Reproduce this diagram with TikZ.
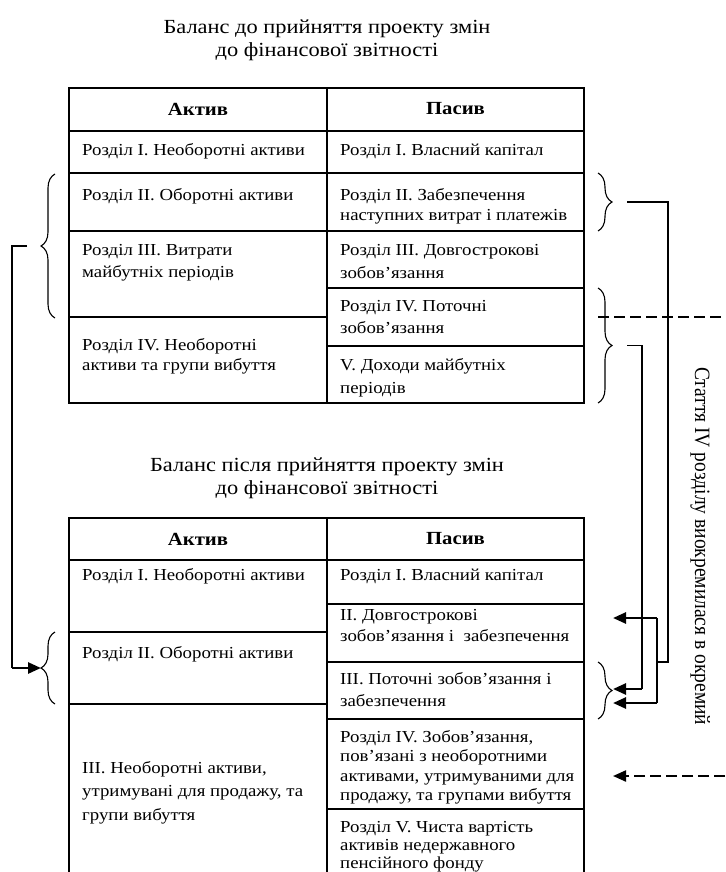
\documentclass[tikz,border=0pt]{standalone}
\usepackage{fontspec}
\usepackage{graphicx}
\setmainfont{Liberation Serif}
\newfontfamily\bodyfont[FakeStretch=1.12]{Liberation Serif}
\usetikzlibrary{arrows.meta,decorations.pathreplacing}
\newcommand\mystrut{\rule{0pt}{0.95em}}
\tikzset{
  grid/.style={line width=1.1pt},
  cell/.style={anchor=north west, inner sep=0pt, align=left, font=\bodyfont\fontsize{16.8}{#1}\selectfont},
  cell/.default=21,
  head/.style={anchor=center, inner sep=0pt, font=\bodyfont\bfseries\fontsize{18.5}{20}\selectfont},
  ttl/.style={anchor=north, inner sep=0pt, align=center, font=\bodyfont\fontsize{20}{23}\selectfont},
  bracefig/.style={decorate, decoration={brace, amplitude=14pt}, line width=1.1pt},
  conn/.style={line width=1.2pt},
  tipshape/.style={-{Triangle[length=13pt,width=11pt]}},
  thickarrow/.style={line width=2.6pt, tipshape},
  dashline/.style={line width=2.2pt, dash pattern=on 11pt off 5pt},
  vtext/.style={rotate=-90, anchor=base west, inner sep=0pt, font=\fontsize{19.5}{22}\selectfont}
}
\begin{document}
\begin{tikzpicture}[x=1pt,y=-1pt]
\useasboundingbox (0,0) rectangle (725,872);
\fill[white] (0,0) rectangle (725,872);

% ---------- top title ----------
\node[ttl] (t1) at (327,14) {\mystrut Баланс до прийняття проекту змін\\до фінансової звітності};

% ---------- top table ----------
\draw[grid] (69,88) rectangle (584,403);
\draw[grid] (327,88) -- (327,403);
\draw[grid] (69,131) -- (584,131);
\draw[grid] (69,173) -- (584,173);
\draw[grid] (69,231) -- (584,231);
\draw[grid] (327,288) -- (584,288);
\draw[grid] (69,317) -- (327,317);
\draw[grid] (327,346) -- (584,346);

\node[head] (ha1) at (198,109) {Актив};
\node[head] (hp1) at (455.5,109) {Пасив};
\node[cell] (a11) at (82,139.1) {\mystrut Розділ I. Необоротні активи};
\node[cell] (p11) at (340,139.1) {\mystrut Розділ I. Власний капітал};
\node[cell] (a12) at (82,184.1) {\mystrut Розділ II. Оборотні активи};
\node[cell=20] (p12) at (340,184.1) {\mystrut Розділ II. Забезпечення\\наступних витрат і платежів};
\node[cell=22] (a13) at (82,239.1) {\mystrut Розділ III. Витрати\\майбутніх періодів};
\node[cell=23] (p13) at (340,239.1) {\mystrut Розділ III. Довгострокові\\зобов’язання};
\node[cell=21.5] (p14) at (340,295.8) {\mystrut Розділ IV. Поточні\\зобов’язання};
\node[cell=20] (a14) at (82,334.1) {\mystrut Розділ IV. Необоротні\\активи та групи вибуття};
\node[cell=23] (p15) at (340,354.1) {\mystrut V. Доходи майбутніх\\періодів};

% ---------- bottom title ----------
\node[ttl] (t2) at (327,452) {\mystrut Баланс після прийняття проекту змін\\до фінансової звітності};

% ---------- bottom table ----------
\draw[grid] (69,872) -- (69,518) -- (584,518) -- (584,872);
\draw[grid] (327,518) -- (327,872);
\draw[grid] (69,560) -- (584,560);
\draw[grid] (327,604) -- (584,604);
\draw[grid] (69,632) -- (327,632);
\draw[grid] (327,662) -- (584,662);
\draw[grid] (69,704) -- (327,704);
\draw[grid] (327,719) -- (584,719);
\draw[grid] (327,809) -- (584,809);

\node[head] (ha2) at (198,539) {Актив};
\node[head] (hp2) at (455.5,539) {Пасив};
\node[cell] (a21) at (82,564.1) {\mystrut Розділ I. Необоротні активи};
\node[cell] (p21) at (340,564.1) {\mystrut Розділ I. Власний капітал};
\node[cell=21] (p22) at (340,604.1) {\mystrut II. Довгострокові\\зобов’язання і~ забезпечення};
\node[cell] (a22) at (82,642.1) {\mystrut Розділ II. Оборотні активи};
\node[cell=22] (p23) at (340,668.1) {\mystrut III. Поточні зобов’язання і\\забезпечення};
\node[cell=19.4] (p24) at (340,726.1) {\mystrut Розділ IV. Зобов’язання,\\пов’язані з необоротними\\активами, утримуваними для\\продажу, та групами вибуття};
\node[cell=23.5] (a23) at (82,757.1) {\mystrut III. Необоротні активи,\\утримувані для продажу, та\\групи вибуття};
\node[cell=18] (p25) at (340,816.1) {\mystrut Розділ V. Чиста вартість\\активів недержавного\\пенсійного фонду};

% ---------- braces ----------
\draw[bracefig] (55,318) -- (55,174);
\draw[bracefig] (55,704) -- (55,632);
\draw[bracefig] (598,173) -- (598,231);
\draw[bracefig] (598,288) -- (598,403);
\draw[bracefig] (598,662) -- (598,719);

\coordinate (bTL) at (41,246);
\coordinate (bBL) at (41,668);
\coordinate (bTR1) at (612,202);
\coordinate (bTR2) at (612,345.5);
\coordinate (bBR) at (613,689);
\coordinate (jL) at (12,246);
\coordinate (jLb) at (12,668);
\coordinate (r1) at (668,202);
\coordinate (r1b) at (668,662);
\coordinate (r2t) at (657,618);
\coordinate (r2b) at (657,703);
\coordinate (r3) at (642,345.5);
\coordinate (r3b) at (642,689);
\coordinate (a1) at (613,618);
\coordinate (a2) at (613,703);
\coordinate (d1s) at (598,317);
\coordinate (d1e) at (725,317);
\coordinate (d2s) at (725,776);
\coordinate (d2e) at (613,776);

% ---------- connectors ----------
\draw[conn] ([xshift=-14pt]bTL) -- (jL) -- (jLb);
\draw[thickarrow] (jLb) -- (bBL);

\draw[conn] ([xshift=15pt]bTR1) -- (r1) -- (r1b) -- (657,662);
\draw[conn] (r2t) -- (r2b);
\draw[thickarrow] (r2t) -- (a1);
\draw[thickarrow] (r2b) -- (a2);
\draw[conn] ([xshift=15pt]bTR2) -- (r3) -- (r3b);
\draw[thickarrow] (r3b) -- (bBR);

\draw[dashline] (d1s) -- (d1e);
\draw[dashline, tipshape] (d2s) -- (d2e);

% ---------- vertical text ----------
\node[vtext] (vt) at (695,367) {\scalebox{1}[1.12]{Стаття IV розділу виокремилася в окремий}};
\end{tikzpicture}
\end{document}
